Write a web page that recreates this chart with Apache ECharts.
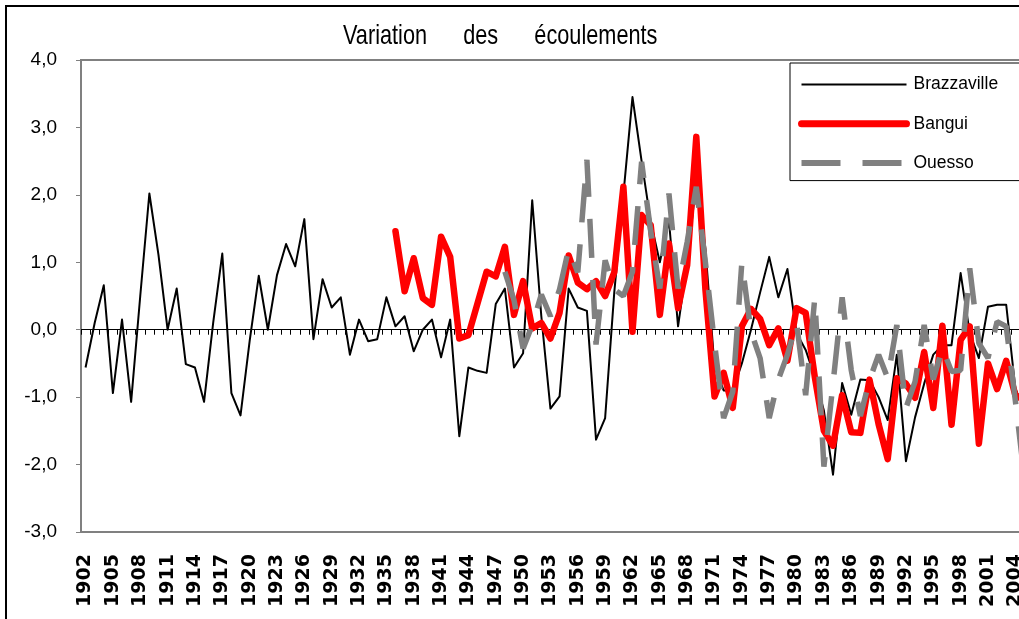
<!DOCTYPE html>
<html>
<head>
<meta charset="utf-8">
<script src="https://cdn.jsdelivr.net/npm/echarts@6/dist/echarts.min.js"></script>
<style>
  html, body { margin: 0; padding: 0; background: #fff; overflow: hidden; }
  #chart { width: 1019px; height: 619px; }
</style>
</head>
<body>
<div id="chart"></div>
<script>
// Annual flow anomalies (standardised) at three gauging stations.
const FIRST_YEAR = 1902;
const LAST_YEAR = 2005;
const years = [];
for (let y = FIRST_YEAR; y <= LAST_YEAR; y++) years.push(String(y));

// Brazzaville, 1902-2005
const brazzaville = [
  -0.56, 0.10, 0.66, -0.94, 0.15, -1.07, 0.50, 2.02, 1.11, 0.00,
   0.61, -0.51, -0.56, -1.07, 0.10, 1.13, -0.94, -1.27, -0.17, 0.80,
   0.00, 0.81, 1.27, 0.94, 1.64, -0.14, 0.75, 0.33, 0.48, -0.37,
   0.15, -0.17, -0.14, 0.48, 0.05, 0.20, -0.32, 0.00, 0.15, -0.41,
   0.15, -1.58, -0.56, -0.61, -0.64, 0.38, 0.61, -0.56, -0.35, 1.92,
   0.20, -1.17, -0.99, 0.61, 0.33, 0.28, -1.63, -1.31, 0.55, 2.00,
   3.45, 2.50, 1.60, 1.00, 1.62, 0.05, 1.00, 2.20, 1.20, -0.55,
  -0.90, -0.90, -0.50, 0.00, 0.55, 1.08, 0.48, 0.90, -0.05, -0.30,
  -0.70, -1.20, -2.15, -0.79, -1.26, -0.74, -0.75, -1.00, -1.34, -0.37,
  -1.95, -1.30, -0.80, -0.37, -0.23, -0.23, 0.84, -0.05, -0.42, 0.34,
   0.37, 0.37, -0.87, -1.20
];

// Bangui, 1936-2005
const banguiStart = 1936;
const bangui = [
   1.46, 0.57, 1.06, 0.47, 0.37, 1.38, 1.08, -0.13, -0.08, 0.39,
   0.86, 0.79, 1.23, 0.22, 0.72, 0.02, 0.10, -0.13, 0.25, 1.10,
   0.70, 0.60, 0.72, 0.50, 0.85, 2.12, -0.03, 1.70, 1.55, 0.22,
   1.28, 0.32, 0.96, 2.86, 0.60, -0.99, -0.64, -1.16, 0.05, 0.31,
   0.16, -0.23, 0.02, -0.46, 0.32, 0.25, -0.70, -1.50, -1.72, -0.97,
  -1.52, -1.53, -0.74, -1.40, -1.92, -0.72, -0.80, -1.01, -0.33, -1.16,
   0.06, -1.41, -0.15, 0.05, -1.69, -0.50, -0.88, -0.46, -0.97, -1.05
];

// Ouesso, 1948-2005
const ouessoStart = 1948;
const ouesso = [
   0.86, 0.44, -0.28, 0.07, 0.52, 0.20, 0.60, 1.20, 0.85, 2.52,
  -0.22, 1.03, 0.60, 0.50, 0.86, 2.49, 1.46, 0.61, 2.02, 0.61,
   1.30, 2.12, 1.00, -0.20, -1.31, -0.92, 1.00, -0.03, -0.42, -1.31,
  -0.74, -0.37, 0.10, -0.97, 0.47, -2.03, -0.80, 0.48, -0.60, -1.28,
  -0.75, -0.37, -0.72, 0.07, -1.16, -0.77, 0.07, -0.74, -0.27, -0.62,
  -0.60, 0.91, -0.20, -0.42, 0.12, 0.05, -1.05, -2.20
];

// Value axis range and step
const yMin = -3, yMax = 4, yStep = 1;

const chartTitle = 'Variation      des      écoulements';

// Pad a station's record with empty years so it lines up with the year axis.
function alignToYears(start, values) {
  const out = [];
  for (let y = FIRST_YEAR; y < start; y++) out.push(null);
  return out.concat(values);
}

const sans = '"Liberation Sans", Arial, sans-serif';
const ouessoDash = [39, 22];

const chart = echarts.init(document.getElementById('chart'), null, { renderer: 'canvas' });
chart.setOption({
  animation: false,
  backgroundColor: '#ffffff',
  graphic: [
    {
      // outer frame of the figure
      type: 'rect',
      silent: true,
      shape: { x: 6, y: 6, width: 1200, height: 1200 },
      style: { fill: 'none', stroke: '#000', lineWidth: 2 },
      z: -1
    },
    {
      // condensed title text
      type: 'text',
      silent: true,
      x: 343,
      y: 36,
      scaleX: 0.775,
      style: {
        text: chartTitle,
        x: 0, y: 0,
        fill: '#000',
        font: 'normal 28px ' + sans,
        textAlign: 'left',
        textVerticalAlign: 'middle'
      }
    }
  ],
  legend: {
    orient: 'vertical',
    left: 790,
    top: 63,
    padding: [12, 40, 8, 8],
    itemWidth: 105,
    itemHeight: 24,
    itemGap: 20,
    borderColor: '#000',
    borderWidth: 1,
    borderRadius: 0,
    backgroundColor: '#fff',
    itemStyle: { opacity: 0 },
    textStyle: { fontFamily: sans, fontSize: 17.5, color: '#000', padding: [0, 0, 0, 2] },
    data: [
      { name: 'Brazzaville', lineStyle: { width: 2, color: '#000' } },
      { name: 'Bangui', lineStyle: { width: 7, color: '#ff0000', cap: 'round' } },
      { name: 'Ouesso', lineStyle: { width: 6, color: '#808080', type: ouessoDash } }
    ]
  },
  grid: {
    left: 81, top: 60, right: -10, bottom: 87,
    show: true, borderColor: '#808080', borderWidth: 2,
    containLabel: false, outerBoundsMode: 'none'
  },
  xAxis: [
    {
      type: 'category', data: years, position: 'bottom', boundaryGap: true,
      axisLine: { onZero: false, lineStyle: { color: '#808080', width: 2 } },
      axisTick: { show: false },
      axisLabel: {
        interval: 2, rotate: 90, margin: 22,
        fontFamily: '"DejaVu Sans", sans-serif', fontWeight: 'bold', fontSize: 19, color: '#000'
      },
      splitLine: { show: false }
    },
    {
      type: 'category', data: years, position: 'bottom', boundaryGap: true,
      axisLine: { onZero: true, onZeroAxisIndex: 0, lineStyle: { color: '#000', width: 1 } },
      axisTick: { show: true, interval: 0, length: 5, lineStyle: { color: '#000', width: 1 } },
      axisLabel: { show: false },
      splitLine: { show: false }
    }
  ],
  yAxis: {
    type: 'value', min: yMin, max: yMax, interval: yStep,
    axisLine: { show: true, lineStyle: { color: '#808080', width: 2 } },
    axisTick: { show: true, length: 5, lineStyle: { color: '#808080', width: 1 } },
    axisLabel: {
      margin: 24, fontFamily: sans, fontSize: 19, color: '#000',
      formatter: v => v.toFixed(1).replace('.', ',')
    },
    splitLine: { show: false }
  },
  series: [
    {
      name: 'Brazzaville', type: 'line', xAxisIndex: 0, data: brazzaville,
      symbol: 'none', lineStyle: { color: '#000', width: 2, join: 'round' },
      itemStyle: { color: '#000' }
    },
    {
      name: 'Bangui', type: 'line', xAxisIndex: 0, data: alignToYears(banguiStart, bangui),
      symbol: 'none', lineStyle: { color: '#ff0000', width: 6.5, cap: 'round', join: 'round' },
      itemStyle: { color: '#ff0000' }
    },
    {
      name: 'Ouesso', type: 'line', xAxisIndex: 0, data: alignToYears(ouessoStart, ouesso),
      symbol: 'none', lineStyle: { color: '#808080', width: 5.5, type: ouessoDash },
      itemStyle: { color: '#808080' }
    }
  ]
});
</script>
</body>
</html>
